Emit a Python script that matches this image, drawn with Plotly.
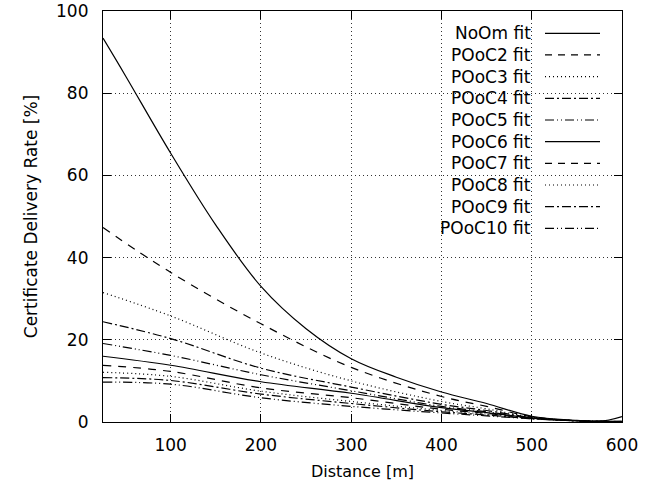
import plotly.graph_objects as go

# Distance [m] sample positions
dist_noom = [25, 50, 100, 150, 200, 250, 300, 350, 400, 450, 500, 550, 575, 600]
noom = [93.4, 84.2, 65.4, 47.9, 33.0, 22.7, 15.4, 10.9, 7.3, 4.5, 1.4, 0.4, 0.1, 1.3]

dist = [25, 100, 200, 300, 400, 450, 500, 550, 600]
pooc2 = [47.3, 36.4, 23.9, 13.3, 6.2, 3.8, 1.3, 0.3, 0.2]
pooc3 = [31.5, 25.8, 16.8, 10.0, 5.0, 3.2, 1.2, 0.3, 0.1]
pooc4 = [24.4, 20.3, 13.1, 8.5, 4.3, 2.8, 1.1, 0.3, 0.1]
pooc5 = [19.1, 16.2, 11.5, 7.6, 3.8, 2.5, 1.0, 0.3, 0.1]
pooc6 = [16.0, 13.8, 9.8, 7.0, 3.5, 2.3, 1.0, 0.3, 0.1]
pooc7 = [13.8, 12.3, 8.3, 5.9, 3.1, 2.1, 0.9, 0.3, 0.1]
pooc8 = [12.1, 11.1, 7.5, 5.0, 2.8, 1.9, 0.9, 0.3, 0.1]
pooc9 = [10.8, 10.1, 6.8, 4.5, 2.5, 1.7, 0.8, 0.3, 0.1]
pooc10 = [9.7, 9.2, 5.9, 3.8, 2.2, 1.5, 0.8, 0.3, 0.1]

names = ["NoOm fit", "POoC2 fit", "POoC3 fit", "POoC4 fit", "POoC5 fit",
         "POoC6 fit", "POoC7 fit", "POoC8 fit", "POoC9 fit", "POoC10 fit"]
series_y = [noom, pooc2, pooc3, pooc4, pooc5, pooc6, pooc7, pooc8, pooc9, pooc10]
series_x = [dist_noom] + [dist] * 9

x_ticks = [100, 200, 300, 400, 500, 600]
y_ticks = [0, 20, 40, 60, 80, 100]

dash_cycle = ["solid", "8px,7px", "1px,3px", "9px,3px,2px,3px", "9px,3px,1px,3px,1px,3px"]
legend_dash = ["solid", "7px,6px", "1px,3px", "9px,3px,2px,3px", "9px,3px,1px,3px,1px,3px"]

FONT = "DejaVu Sans"

fig = go.Figure()
for i, (xs, ys) in enumerate(zip(series_x, series_y)):
    fig.add_trace(go.Scatter(
        x=xs, y=ys, mode="lines", name=names[i], showlegend=False,
        line=dict(color="black", width=1.2, dash=dash_cycle[i % 5],
                  shape="spline", smoothing=1.0),
    ))

# plot area in pixels: x 103..622, y 11..422
L, R, T, B = 103, 622, 11, 422
W, H = R - L, B - T

def px(xp):
    return (xp - L) / W

def py(yp):
    return (B - yp) / H

shapes = [dict(type="rect", xref="paper", yref="paper",
               x0=px(417), x1=px(621), y0=py(241), y1=py(18),
               fillcolor="white", line=dict(width=0), layer="between")]
annotations = []
for i, n in enumerate(names):
    yy = 33.3 + i * 21.67
    annotations.append(dict(text=n, xref="paper", yref="paper", x=px(533), y=py(yy),
                            xanchor="right", yanchor="middle", showarrow=False,
                            font=dict(size=17, color="black", family=FONT)))
    shapes.append(dict(type="line", xref="paper", yref="paper",
                       x0=px(545), x1=px(600), y0=py(yy), y1=py(yy),
                       line=dict(color="black", width=1.2, dash=legend_dash[i % 5])))

axis_common = dict(
    showline=True, linecolor="black", linewidth=1.2, mirror="allticks",
    ticks="inside", ticklen=8, tickwidth=1, tickcolor="black",
    showgrid=True, gridcolor="#333", gridwidth=1, griddash="1px,3px",
    zeroline=False, tickfont=dict(size=17, color="black", family=FONT),
)

fig.update_layout(
    width=665, height=491,
    margin=dict(l=L, r=665 - R, t=T, b=491 - B, autoexpand=False),
    paper_bgcolor="white", plot_bgcolor="white",
    font=dict(family=FONT, color="black"),
    xaxis=dict(range=[25, 600], tickvals=x_ticks, ticklabelstandoff=7,
               title=dict(text="Distance [m]", font=dict(size=16), standoff=12),
               **axis_common),
    yaxis=dict(range=[0, 100], tickvals=y_ticks, ticklabelstandoff=10,
               title=dict(text="Certificate Delivery Rate [%]", font=dict(size=17), standoff=14),
               **axis_common),
    shapes=shapes, annotations=annotations,
)

fig.write_html("out.html")
